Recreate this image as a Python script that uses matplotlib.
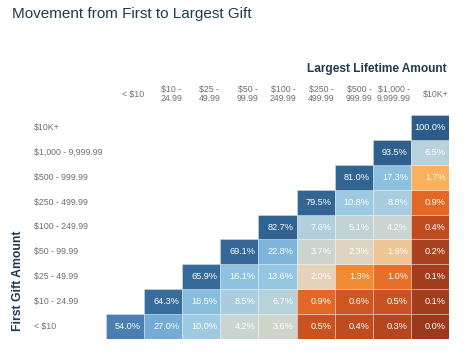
import numpy as np
import matplotlib
matplotlib.use("Agg")
import matplotlib.pyplot as plt
from matplotlib.colors import LinearSegmentedColormap, FuncNorm
from matplotlib.patches import Rectangle
from matplotlib import font_manager

plt.rcParams['font.family'] = ['Liberation Sans', 'DejaVu Sans']
names = {f.name for f in font_manager.fontManager.ttflist}
narrow = 'Liberation Sans Narrow' if 'Liberation Sans Narrow' in names else None

# ---- data ----
col_labels = ["< $10", "$10 -\n24.99", "$25 -\n49.99", "$50 -\n99.99", "$100 -\n249.99",
              "$250 -\n499.99", "$500 -\n999.99", "$1,000 -\n9,999.99", "$10K+"]
row_labels = ["< $10", "$10 - 24.99", "$25 - 49.99", "$50 - 99.99", "$100 - 249.99",
              "$250 - 499.99", "$500 - 999.99", "$1,000 - 9,999.99", "$10K+"]
# rows: first gift (bottom to top); columns: largest lifetime amount
row_lt10 = [54.0, 27.0, 10.0, 4.2, 3.6, 0.5, 0.4, 0.3, 0.0]
row_10 = [None, 64.3, 18.5, 8.5, 6.7, 0.9, 0.6, 0.5, 0.1]
row_25 = [None, None, 65.9, 16.1, 13.6, 2.0, 1.3, 1.0, 0.1]
row_50 = [None, None, None, 69.1, 22.8, 3.7, 2.3, 1.9, 0.2]
row_100 = [None, None, None, None, 82.7, 7.6, 5.1, 4.2, 0.4]
row_250 = [None, None, None, None, None, 79.5, 10.8, 8.8, 0.9]
row_500 = [None, None, None, None, None, None, 81.0, 17.3, 1.7]
row_1000 = [None, None, None, None, None, None, None, 93.5, 6.5]
row_10k = [None, None, None, None, None, None, None, None, 100.0]
rows = [row_lt10, row_10, row_25, row_50, row_100, row_250, row_500, row_1000, row_10k]

# ---- colour scale (orange-blue diverging) ----
anchor_vals = [0.0, 0.15, 0.45, 0.9, 1.3, 1.75, 2.0, 2.5, 4.0, 6.5, 10.0, 17.0, 27.0, 54.0, 66.0, 100.0]
anchor_cols = ["#9c391d", "#a6401f", "#c44f1f", "#e36825", "#f08a33", "#fbb562", "#e6d2b8",
               "#d8d5c8", "#cbd4cf", "#b9d1db", "#9fcbe2", "#8cc1e0", "#75acd6", "#4a7fb0",
               "#366a9b", "#2c5d8a"]
pos = np.linspace(0, 1, len(anchor_vals))
cmap = LinearSegmentedColormap.from_list("ob", list(zip(pos, anchor_cols)))
norm = FuncNorm((lambda v: np.interp(v, anchor_vals, pos),
                 lambda p: np.interp(p, pos, anchor_vals)), vmin=0, vmax=100)

W, H = 468, 353
fig = plt.figure(figsize=(W / 100, H / 100), dpi=100)
x0, x1, y0, y1 = 106, 449, 115, 339
ax = fig.add_axes([x0 / W, 1 - y1 / H, (x1 - x0) / W, (y1 - y0) / H])
ax.set_xlim(0, 9)
ax.set_ylim(0, 9)
ax.axis("off")

cw = 9 / (x1 - x0)  # data units per pixel (x)
for i, r in enumerate(rows):
    for j, v in enumerate(r):
        if v is None:
            continue
        ax.add_patch(Rectangle((j, i), 1, 1, facecolor=cmap(norm(v)),
                               edgecolor=(1, 1, 1, 0.35), linewidth=0.6))
        ax.text(j + 1 - 3 * cw, i + 0.5, f"{v:.1f}%", color="white", fontsize=6.6,
                ha="right", va="center")

# column labels
for j, lab in enumerate(col_labels):
    fig.text((x0 + (x1 - x0) / 9 * (j + 1)) / W, 1 - 94 / H, lab, ha="right", va="center",
             multialignment="center", fontsize=6.3, color="#6e6e6e", linespacing=1.05)

# row labels
for i, lab in enumerate(row_labels):
    yc = y1 - (y1 - y0) / 9 * (i + 0.5)
    fig.text(34 / W, 1 - yc / H, lab, ha="left", va="center", fontsize=6.3, color="#6e6e6e")

if narrow:
    fig.text(12 / W, 1 - 14 / H, "Movement from First to Largest Gift", fontsize=13,
             color="#1d3b50", ha="left", va="center", family=[narrow, 'DejaVu Sans'])
else:
    fig.text(12 / W, 1 - 14 / H, "Movement from First to Largest Gift", fontsize=11,
             color="#1d3b50", ha="left", va="center")
fig.text(447 / W, 1 - 69 / H, "Largest Lifetime Amount", fontsize=8.6, fontweight="bold",
         color="#1d3b50", ha="right", va="center")
fig.text(18 / W, 1 - 281 / H, "First Gift Amount", fontsize=8.8, fontweight="bold",
         color="#1d3b50", ha="center", va="center", rotation=90)

fig.savefig("out.png", dpi=100)
